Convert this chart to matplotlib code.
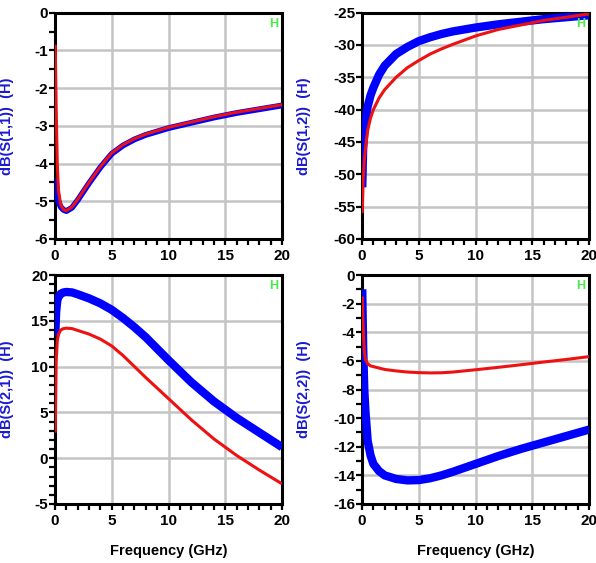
import numpy as np
import matplotlib.pyplot as plt
from matplotlib.ticker import MultipleLocator

plt.rcParams['font.family'] = ['Liberation Sans', 'DejaVu Sans']
plt.rcParams['font.weight'] = 'bold'
plt.rcParams['axes.unicode_minus'] = False

# frequency points (GHz)
freq = [0.02, 0.1, 0.2, 0.3, 0.5, 0.75, 1, 1.5, 2, 3, 4, 5, 6, 7, 8, 10, 12, 14, 16, 18, 20]

# S11 (dB)
s11_blue = [-4.4, -4.5, -4.85, -5.0, -5.15, -5.23, -5.26, -5.17, -4.97, -4.52, -4.1, -3.74,
            -3.52, -3.36, -3.24, -3.06, -2.92, -2.78, -2.66, -2.56, -2.46]
s11_red = [-0.85, -2.5, -4.0, -4.7, -5.1, -5.22, -5.25, -5.15, -4.95, -4.5, -4.08, -3.72,
           -3.5, -3.34, -3.22, -3.04, -2.9, -2.76, -2.64, -2.54, -2.44]

# S12 (dB)
s12_blue = [-52, -46, -43.5, -41.8, -39.5, -37.8, -36.6, -34.6, -33.2, -31.4, -30.3, -29.4,
            -28.8, -28.3, -27.9, -27.3, -26.8, -26.4, -26.0, -25.7, -25.4]
s12_red = [-56, -51, -48, -46, -43.2, -41.3, -40.0, -38.2, -36.9, -35.0, -33.5, -32.4,
           -31.4, -30.6, -29.9, -28.6, -27.6, -26.9, -26.2, -25.7, -25.2]

# S21 (dB)
s21_blue = [13.3, 16.0, 17.2, 17.6, 17.95, 18.1, 18.15, 18.1, 17.9, 17.45, 16.9, 16.2,
            15.3, 14.3, 13.2, 10.7, 8.3, 6.2, 4.4, 2.8, 1.2]
s21_red = [2.8, 10.5, 12.8, 13.5, 14.0, 14.15, 14.2, 14.15, 13.95, 13.55, 13.0, 12.25,
           11.2, 10.0, 8.8, 6.5, 4.2, 2.1, 0.3, -1.3, -2.8]

# S22 (dB)
s22_blue = [-1.0, -5.0, -8.0, -9.5, -11.6, -12.6, -13.2, -13.7, -14.0, -14.25, -14.35, -14.33,
            -14.2, -14.0, -13.75, -13.2, -12.65, -12.15, -11.7, -11.25, -10.8]
s22_red = [-1.5, -3.5, -5.3, -5.9, -6.2, -6.35, -6.4, -6.5, -6.6, -6.7, -6.78, -6.82,
           -6.84, -6.83, -6.78, -6.62, -6.45, -6.27, -6.08, -5.9, -5.7]

panels = [
    ('dB(S(1,1))  (H)', s11_blue, s11_red, (-6, 0), 1, 0.5, 4.2),
    ('dB(S(1,2))  (H)', s12_blue, s12_red, (-60, -25), 5, None, 6.0),
    ('dB(S(2,1))  (H)', s21_blue, s21_red, (-5, 20), 5, 1, 6.0),
    ('dB(S(2,2))  (H)', s22_blue, s22_red, (-16, 0), 2, 1, 6.0),
]

positions = [
    [0.0923, 0.5755, 0.381, 0.402],
    [0.6074, 0.5755, 0.381, 0.402],
    [0.0923, 0.1048, 0.381, 0.4067],
    [0.6074, 0.1048, 0.381, 0.4067],
]

fig = plt.figure(figsize=(5.96, 5.63), dpi=100)

for i, (label, blue, red, ylim, major, minor, blue_lw) in enumerate(panels):
    ax = fig.add_axes(positions[i])
    ax.plot(freq, blue, color='#0000ff', linewidth=blue_lw, solid_capstyle='butt',
            solid_joinstyle='round', zorder=3)
    ax.plot(freq, red, color='#ee1111', linewidth=2.2, solid_capstyle='butt',
            solid_joinstyle='round', zorder=4)

    ax.set_xlim(0, 20)
    ax.set_ylim(*ylim)
    ax.xaxis.set_major_locator(MultipleLocator(5))
    ax.xaxis.set_minor_locator(MultipleLocator(1))
    ax.yaxis.set_major_locator(MultipleLocator(major))
    if minor:
        ax.yaxis.set_minor_locator(MultipleLocator(minor))

    ax.grid(True, which='major', color='#c4c4c4', linewidth=1.8, zorder=0)
    ax.set_axisbelow(True)
    for sp in ax.spines.values():
        sp.set_linewidth(2.2)
        sp.set_color('black')

    ax.tick_params(which='both', direction='out', width=1.6, length=4, labelsize=11, pad=1)
    ax.tick_params(axis='x', which='major', pad=3)
    for t in ax.get_xticklabels() + ax.get_yticklabels():
        t.set_fontweight('bold')

    ax.set_ylabel(label, color='#1a1ad0', fontsize=10.5, fontweight='bold')
    ax.yaxis.set_label_coords(-0.18 if i % 2 == 0 else -0.225, 0.5)

    ax.text(0.965, 0.95, 'H', color='#44ee44', fontsize=9, fontweight='bold',
            transform=ax.transAxes, ha='center', va='center', zorder=5)

    if i >= 2:
        ax.set_xlabel('Frequency (GHz)', fontsize=10.5, fontweight='bold', labelpad=12)

fig.savefig('out.png', dpi=100)
